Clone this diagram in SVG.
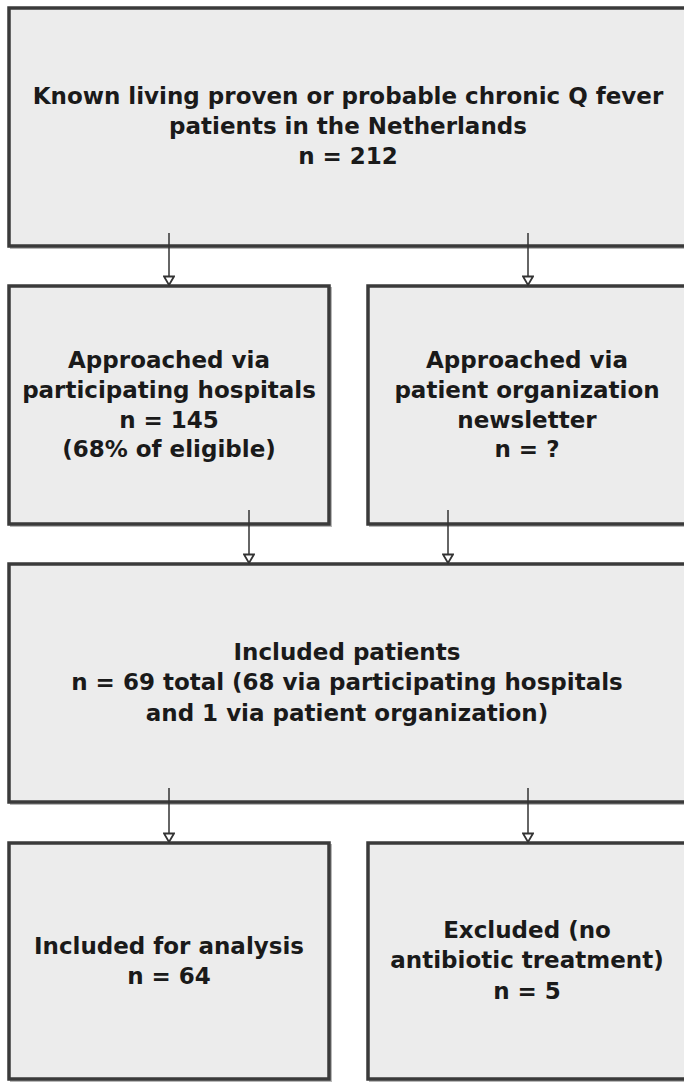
<svg xmlns="http://www.w3.org/2000/svg" width="684" height="1082" viewBox="0 0 684 1082">
<defs>
<style>
.box{fill:#ececec;stroke:#3a3a3a;stroke-width:3.5}
.sh{fill:none;stroke:#b8b8b8;stroke-width:2}
.t{font-family:"DejaVu Sans","Liberation Sans",sans-serif;font-weight:bold;font-size:23px;fill:#1a1a1a;text-anchor:middle}
.c{stroke:#333;stroke-width:1.5;fill:none;marker-end:url(#ah)}
</style>
<marker id="ah" markerWidth="12" markerHeight="12" refX="10" refY="6" orient="auto" markerUnits="userSpaceOnUse" viewBox="0 0 12 12">
<path d="M1.5,1 L10,6 L1.5,11 Z" fill="#fff" stroke="#333" stroke-width="1.8"/>
</marker>
</defs>
<rect width="684" height="1082" fill="#fff"/>
<g id="top">
<rect class="sh" x="11" y="10" width="690" height="238"/>
<rect class="box" x="9" y="8" width="690" height="238"/>
<text class="t" x="348" y="104">Known living proven or probable chronic Q fever</text>
<text class="t" x="348" y="134">patients in the Netherlands</text>
<text class="t" x="348" y="164">n = 212</text>
</g>
<g id="hospitals">
<rect class="sh" x="11" y="288" width="320" height="238"/>
<rect class="box" x="9" y="286" width="320" height="238"/>
<text class="t" x="169" y="368">Approached via</text>
<text class="t" x="169" y="398">participating hospitals</text>
<text class="t" x="169" y="428">n = 145</text>
<text class="t" x="169" y="457">(68% of eligible)</text>
</g>
<g id="newsletter">
<rect class="sh" x="370" y="288" width="330" height="238"/>
<rect class="box" x="368" y="286" width="330" height="238"/>
<text class="t" x="527" y="368">Approached via</text>
<text class="t" x="527" y="398">patient organization</text>
<text class="t" x="527" y="428">newsletter</text>
<text class="t" x="527" y="457">n = ?</text>
</g>
<g id="included">
<rect class="sh" x="11" y="566" width="690" height="238"/>
<rect class="box" x="9" y="564" width="690" height="238"/>
<text class="t" x="347" y="660">Included patients</text>
<text class="t" x="347" y="690">n = 69 total (68 via participating hospitals</text>
<text class="t" x="347" y="721">and 1 via patient organization)</text>
</g>
<g id="analysis">
<rect class="sh" x="11" y="845" width="320" height="236"/>
<rect class="box" x="9" y="843" width="320" height="236"/>
<text class="t" x="169" y="954">Included for analysis</text>
<text class="t" x="169" y="984">n = 64</text>
</g>
<g id="excluded">
<rect class="sh" x="370" y="845" width="330" height="236"/>
<rect class="box" x="368" y="843" width="330" height="236"/>
<text class="t" x="527" y="938">Excluded (no</text>
<text class="t" x="527" y="968">antibiotic treatment)</text>
<text class="t" x="527" y="999">n = 5</text>
</g>
<g id="connectors">
<line class="c" x1="169" y1="233" x2="169" y2="285"/>
<line class="c" x1="528" y1="233" x2="528" y2="285"/>
<line class="c" x1="249" y1="510" x2="249" y2="563"/>
<line class="c" x1="448" y1="510" x2="448" y2="563"/>
<line class="c" x1="169" y1="788" x2="169" y2="842"/>
<line class="c" x1="528" y1="788" x2="528" y2="842"/>
</g>
</svg>
